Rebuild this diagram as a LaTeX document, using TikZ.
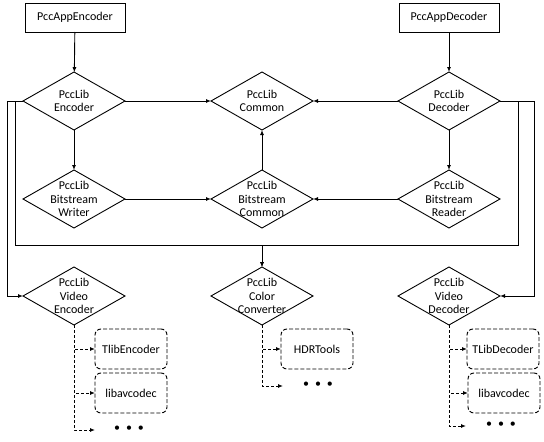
\documentclass[tikz,border=0pt]{standalone}
\usepackage{fontspec}
\setmainfont{Carlito}
\usetikzlibrary{shapes.geometric,arrows.meta}
\newcommand\moredots{\textbullet\hspace{6pt}\textbullet\hspace{6pt}\textbullet}
\begin{document}
\begin{tikzpicture}[x=1pt,y=-1pt,
  line width=0.9pt,
  every node/.style={font=\fontsize{12}{13.4}\selectfont},
  appbox/.style={draw, rectangle, minimum width=100pt, minimum height=29pt,
    inner sep=0pt, outer sep=0pt},
  libnode/.style={draw, diamond, minimum width=102pt, minimum height=58pt,
    inner sep=0pt, outer sep=0pt, label={[align=center]center:#1}},
  extbox/.style={draw, dash pattern=on 4pt off 2pt, rounded corners=6pt,
    minimum width=72pt, minimum height=40pt, inner sep=0pt, outer sep=0pt},
  arr/.style={-{Latex[length=5pt,width=4pt]}},
  dasharr/.style={arr, dash pattern=on 3pt off 2pt}]
\useasboundingbox (0,0) rectangle (544,442);

% applications
\node[appbox] (appenc) at (75,17.5) {PccAppEncoder};
\node[appbox] (appdec) at (449,17.5) {PccAppDecoder};

% libraries
\node[libnode={PccLib\\Encoder}] (enc) at (74,101) {};
\node[libnode={PccLib\\Common}] (common) at (262,101) {};
\node[libnode={PccLib\\Decoder}] (dec) at (449,101) {};
\node[libnode={PccLib\\Bitstream\\Writer}] (bsw) at (74,199) {};
\node[libnode={PccLib\\Bitstream\\Common}] (bsc) at (262,199) {};
\node[libnode={PccLib\\Bitstream\\Reader}] (bsr) at (449,199) {};
\node[libnode={PccLib\\Video\\Encoder}] (venc) at (74,296) {};
\node[libnode={PccLib\\Color\\Converter}] (conv) at (262,296) {};
\node[libnode={PccLib\\Video\\Decoder}] (vdec) at (449,296) {};

% external tools
\node[extbox] (tlibenc) at (131,349) {TlibEncoder};
\node[extbox] (avenc) at (131,393) {libavcodec};
\node[extbox] (hdr) at (317,349) {HDRTools};
\node[extbox] (tlibdec) at (503,349) {TLibDecoder};
\node[extbox] (avdec) at (504,393) {libavcodec};
\node (encdots) at (129,429) {\moredots};
\node (convdots) at (318,385) {\moredots};
\node (decdots) at (501,425) {\moredots};
\coordinate (encmore) at (95,430);
\coordinate (convmore) at (283,386);
\coordinate (decmore) at (466,426);

% dependencies
\draw[arr] (appenc) -- (enc);
\draw[arr] (appdec) -- (dec);
\draw[arr] (enc) -- (common);
\draw[arr] (dec) -- (common);
\draw[arr] (enc) -- (bsw);
\draw[arr] (dec) -- (bsr);
\draw[arr] (bsw) -- (bsc);
\draw[arr] (bsr) -- (bsc);
\draw[arr] (bsc) -- (common);

% shared bus to the colour converter
\coordinate (busL) at (15,245);
\coordinate (busR) at (518,245);
\draw[arr] (enc.west) -| (busL) -| (conv.north);
\draw[arr] (dec.east) -| (busR) -| (conv.north);

% outer links to the video codecs
\coordinate (encside) at (7,101);
\coordinate (decside) at (534,101);
\draw[arr] (enc.west) -- (encside) |- (venc.west);
\draw[arr] (dec.east) -- (decside) |- (vdec.east);

% optional back-ends
\draw[dasharr] (venc.south) |- (tlibenc.west);
\draw[dasharr] (venc.south) |- (avenc.west);
\draw[dasharr] (venc.south) |- (encmore);
\draw[dasharr] (conv.south) |- (hdr.west);
\draw[dasharr] (conv.south) |- (convmore);
\draw[dasharr] (vdec.south) |- (tlibdec.west);
\draw[dasharr] (vdec.south) |- (avdec.west);
\draw[dasharr] (vdec.south) |- (decmore);
\end{tikzpicture}
\end{document}
